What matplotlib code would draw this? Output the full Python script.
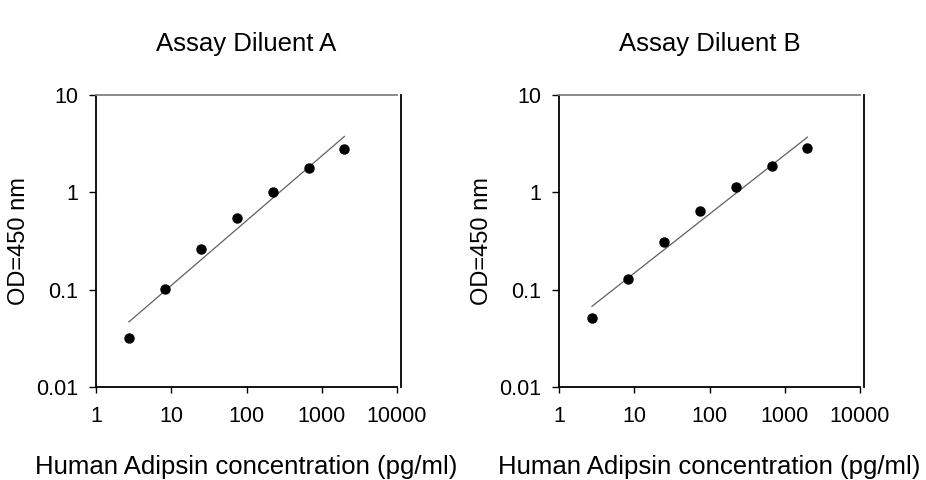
import numpy as np
import matplotlib
matplotlib.use("Agg")
import matplotlib.pyplot as plt

plt.rcParams['font.family'] = ['Liberation Sans', 'DejaVu Sans']

# standard curve, 3-fold dilution series
conc = [2.74, 8.23, 24.7, 74.1, 222, 667, 2000]
od_a = [0.032, 0.101, 0.26, 0.544, 1.0, 1.78, 2.77]
od_b = [0.0514, 0.129, 0.306, 0.638, 1.125, 1.85, 2.85]

titles = ["Assay Diluent A", "Assay Diluent B"]
xticks = [1, 10, 100, 1000, 10000]
xtick_labels = ["1", "10", "100", "1000", "10000"]
yticks = [0.01, 0.1, 1, 10]
ytick_labels = ["0.01", "0.1", "1", "10"]


def panel(ax, x, y, title):
    lx = np.log10(x)
    ly = np.log10(y)
    slope, icpt = np.polyfit(lx, ly, 1)
    fx = np.array([x[0], x[-1]])
    fy = 10 ** (icpt + slope * np.log10(fx))
    ax.plot(fx, fy, color="#606060", lw=0.9, zorder=2)
    ax.plot(x, y, "o", color="black", ms=6.5, zorder=3)

    ax.set_xscale("log")
    ax.set_yscale("log")
    ax.set_xlim(1, 10000)
    ax.set_ylim(0.01, 10)
    ax.minorticks_off()
    ax.set_xticks(xticks)
    ax.set_xticklabels(xtick_labels)
    ax.set_yticks(yticks)
    ax.set_yticklabels(ytick_labels)
    ax.tick_params(axis="x", direction="out", length=4, width=1, pad=10, labelsize=15.5)
    ax.tick_params(axis="y", direction="out", length=5, width=1, pad=8, labelsize=15.5)

    for s in ["left", "bottom", "right"]:
        ax.spines[s].set_color("black")
        ax.spines[s].set_linewidth(1.3)
    ax.spines["top"].set_color("#808080")
    ax.spines["top"].set_linewidth(1.3)
    ax.spines["right"].set_position(("outward", 3))

    ax.set_title(title, fontsize=18.5, pad=32)
    ax.set_xlabel("Human Adipsin concentration (pg/ml)", fontsize=18.5, labelpad=20)
    ax.set_ylabel("OD=450 nm", fontsize=17, labelpad=4)


fig = plt.figure(figsize=(9.26, 4.8), dpi=100)
ax1 = fig.add_axes([96 / 926, 93 / 480, 301 / 926, 292 / 480])
ax2 = fig.add_axes([559 / 926, 93 / 480, 301 / 926, 292 / 480])

panel(ax1, conc, od_a, titles[0])
panel(ax2, conc, od_b, titles[1])

fig.savefig("out.png", dpi=100)
